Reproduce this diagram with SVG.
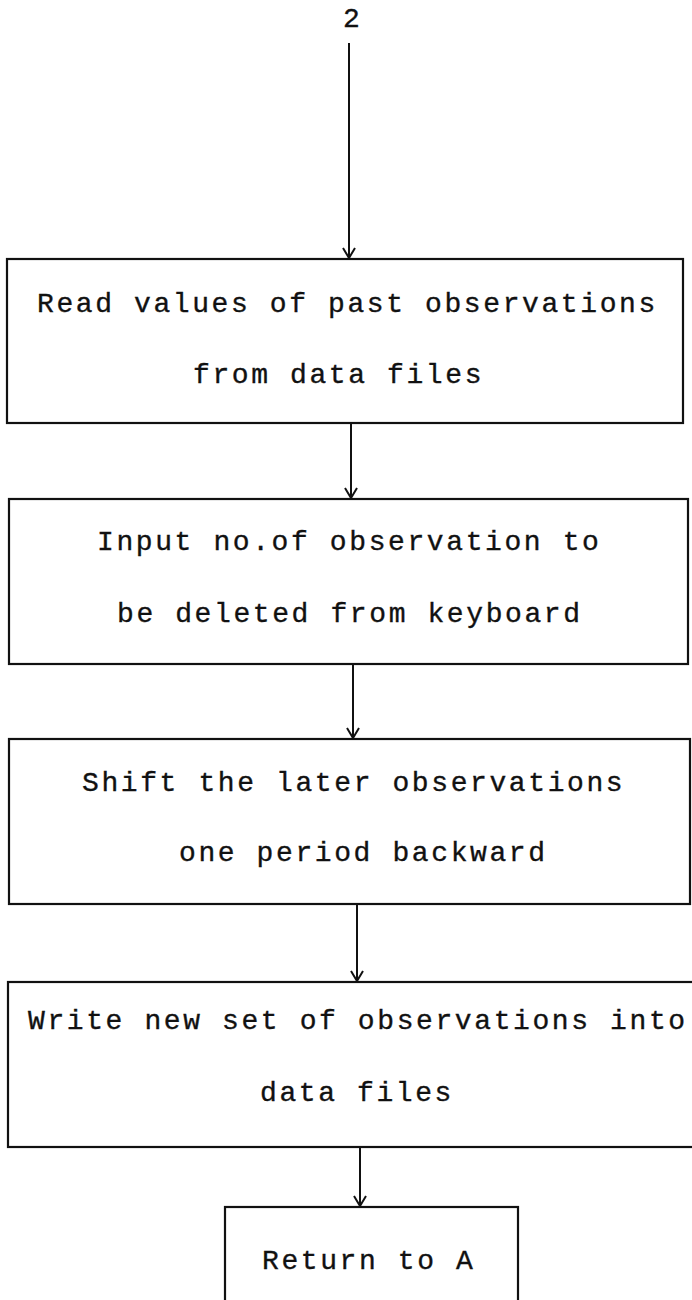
<svg xmlns="http://www.w3.org/2000/svg" width="692" height="1300" viewBox="0 0 692 1300">
<style>
.box{fill:#fff;stroke:#111;stroke-width:2.2}
.t{font-family:"Liberation Mono","DejaVu Sans Mono",monospace;font-size:28px;letter-spacing:2.6px;fill:#111;stroke:#111;stroke-width:0.35}
.c{fill:none;stroke:#111;stroke-width:2}
</style>
<defs>
<marker id="arr" viewBox="0 0 12 14" refX="11" refY="7" markerWidth="12" markerHeight="14" markerUnits="userSpaceOnUse" orient="auto">
<path d="M1,1 L11,7 L1,13" fill="none" stroke="#111" stroke-width="2"/>
</marker>
</defs>
<rect width="692" height="1300" fill="#fff"/>
<g id="start">
<text class="t" x="343" y="27">2</text>
</g>
<g id="n1">
<rect class="box" x="7" y="259" width="676" height="164"/>
<text class="t" x="37" y="312">Read values of past observations</text>
<text class="t" x="193" y="383">from data files</text>
</g>
<g id="n2">
<rect class="box" x="9" y="499" width="679" height="165"/>
<text class="t" x="97" y="550">Input no.of observation to</text>
<text class="t" x="117" y="622">be deleted from keyboard</text>
</g>
<g id="n3">
<rect class="box" x="9" y="739" width="681" height="165"/>
<text class="t" x="82" y="791">Shift the later observations</text>
<text class="t" x="179" y="861">one period backward</text>
</g>
<g id="n4">
<rect class="box" x="8" y="982" width="700" height="165"/>
<text class="t" x="28" y="1029">Write new set of observations into</text>
<text class="t" x="260" y="1101">data files</text>
</g>
<g id="n5">
<rect class="box" x="225" y="1207" width="293" height="120"/>
<text class="t" x="262" y="1269">Return to A</text>
</g>
<g id="connectors">
<line class="c" x1="349" y1="43" x2="349" y2="258" marker-end="url(#arr)"/>
<line class="c" x1="351" y1="423" x2="351" y2="498" marker-end="url(#arr)"/>
<line class="c" x1="353" y1="664" x2="353" y2="738" marker-end="url(#arr)"/>
<line class="c" x1="357" y1="904" x2="357" y2="981" marker-end="url(#arr)"/>
<line class="c" x1="360" y1="1147" x2="360" y2="1206" marker-end="url(#arr)"/>
</g>
</svg>
